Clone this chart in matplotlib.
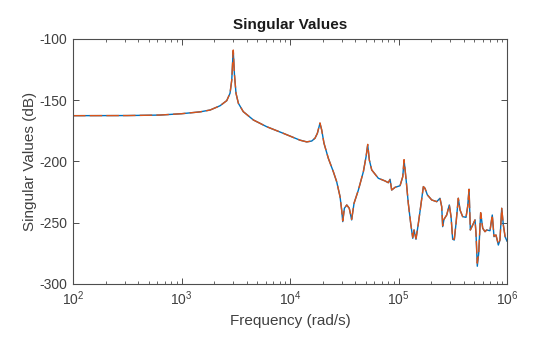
import matplotlib
matplotlib.use("Agg")
import matplotlib.pyplot as plt
import numpy as np
from matplotlib.ticker import LogLocator, FixedLocator, NullFormatter

plt.rcParams['font.family'] = ['Liberation Sans', 'DejaVu Sans']
plt.rcParams['axes.unicode_minus'] = False

# frequency as log10(rad/s)
log_freq = [2.0, 2.5, 2.8, 3.0, 3.17, 3.263, 3.355, 3.417, 3.447, 3.463, 3.472, 3.477,
            3.487, 3.502, 3.524, 3.569, 3.662, 3.785, 3.938, 4.092, 4.154, 4.2, 4.23,
            4.252, 4.276, 4.292, 4.313, 4.353, 4.399, 4.43, 4.461, 4.476, 4.486, 4.501,
            4.523, 4.546, 4.568, 4.59, 4.63, 4.676, 4.701, 4.716, 4.731, 4.753, 4.814,
            4.876, 4.906, 4.922, 4.937, 4.968, 5.014, 5.039, 5.051, 5.069, 5.09, 5.112,
            5.131, 5.143, 5.161, 5.183, 5.204, 5.229, 5.244, 5.266, 5.306, 5.352, 5.382,
            5.398, 5.407, 5.419, 5.444, 5.468, 5.484, 5.499, 5.514, 5.53, 5.551, 5.567,
            5.591, 5.622, 5.637, 5.65, 5.662, 5.684, 5.705, 5.714, 5.726, 5.739, 5.757,
            5.776, 5.797, 5.812, 5.843, 5.864, 5.88, 5.898, 5.92, 5.935, 5.951, 5.966,
            5.982, 6.0]

sv1 = [-162.6, -162.5, -162.1, -161.0, -159.5, -158.0, -154.5, -150.3, -144.3, -133.5,
       -117.0, -110.0, -128.0, -144.3, -152.5, -159.3, -166.1, -171.6, -177.0, -182.6,
       -184.0, -183.3, -181.0, -177.0, -168.8, -174.3, -185.1, -197.4, -208.3, -216.5,
       -228.7, -239.6, -249.1, -238.2, -235.5, -238.2, -247.7, -234.1, -223.3, -208.3,
       -196.0, -186.5, -198.8, -206.9, -213.7, -215.9, -217.3, -214.5, -223.3, -221.1,
       -219.8, -212.4, -199.0, -214.0, -234.1, -250.4, -262.7, -255.9, -263.5, -250.4,
       -236.9, -220.5, -221.9, -227.3, -231.4, -232.8, -230.0, -236.9, -253.2, -247.2,
       -243.7, -235.5, -245.0, -263.5, -264.1, -250.4, -230.0, -239.6, -245.0, -245.6,
       -236.9, -222.7, -255.9, -251.8, -247.7, -258.6, -285.5, -274.9, -241.8, -254.5,
       -257.3, -255.9, -256.5, -243.7, -261.4, -260.0, -268.2, -264.1, -238.2, -251.8,
       -261.4, -265.0]

sv2 = [-162.6, -162.5, -162.1, -161.0, -159.5, -158.0, -154.5, -150.3, -144.3, -133.5,
       -117.0, -109.0, -128.0, -144.3, -152.5, -159.3, -166.1, -171.6, -177.0, -182.6,
       -184.0, -183.3, -181.0, -177.0, -168.5, -174.3, -185.1, -197.4, -208.3, -216.5,
       -228.7, -239.6, -248.5, -238.2, -235.5, -238.2, -247.2, -234.1, -223.3, -208.3,
       -196.0, -186.0, -198.8, -206.9, -213.7, -215.9, -217.3, -214.5, -223.3, -221.1,
       -219.8, -212.4, -198.5, -214.0, -234.1, -250.4, -262.0, -255.9, -263.0, -250.4,
       -236.9, -220.5, -221.9, -227.3, -231.4, -232.8, -230.0, -236.9, -252.5, -247.2,
       -243.7, -235.5, -245.0, -263.0, -263.5, -250.4, -230.0, -239.6, -245.0, -245.6,
       -236.9, -222.7, -255.9, -251.8, -247.7, -258.6, -283.0, -274.9, -241.8, -254.5,
       -257.3, -255.9, -256.5, -243.7, -261.0, -260.0, -267.5, -264.1, -238.2, -251.8,
       -261.0, -265.0]

yticks = [-300, -250, -200, -150, -100]

freq = 10.0 ** np.array(log_freq)

fig = plt.figure(figsize=(5.6, 3.37), dpi=100)
ax = fig.add_axes([0.1304, 0.1573, 0.7750, 0.7270])

ax.semilogx(freq, sv1, color='#0072BD', lw=1.0)
ax.semilogx(freq, sv2, color='#D95319', lw=1.0, ls=(0, (9, 3)))

ax.set_xlim(1e2, 1e6)
ax.set_ylim(-300, -100)
ax.yaxis.set_major_locator(FixedLocator(yticks))
ax.xaxis.set_major_locator(LogLocator(base=10, numticks=10))
ax.xaxis.set_minor_locator(LogLocator(base=10, subs=range(2, 10), numticks=100))
ax.xaxis.set_minor_formatter(NullFormatter())

gray = '#404040'
for s in ax.spines.values():
    s.set_color('#4d4d4d')
    s.set_linewidth(0.8)
ax.tick_params(which='both', direction='in', top=True, right=True, colors='#4d4d4d',
               labelcolor=gray, labelsize=10)
ax.tick_params(which='major', length=4, width=0.7, pad=4)
ax.tick_params(which='minor', length=2.5, width=0.6)

ax.set_title('Singular Values', fontsize=11, fontweight='bold', color='#1a1a1a', pad=7)
ax.set_xlabel('Frequency (rad/s)', fontsize=11, color=gray, labelpad=4)
ax.set_ylabel('Singular Values (dB)', fontsize=11, color=gray, labelpad=2)

fig.savefig('out.png', dpi=100)
